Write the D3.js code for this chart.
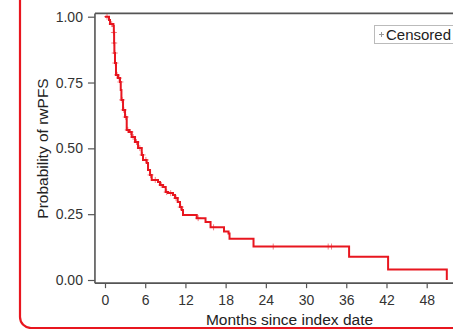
<!DOCTYPE html>
<html>
<head>
<meta charset="utf-8">
<script src="https://cdn.jsdelivr.net/npm/d3@7"></script>
<style>
  html, body { margin: 0; padding: 0; background: #fff; }
  svg { display: block; font-family: 'Liberation Sans', Arial, sans-serif; }
</style>
</head>
<body>
<svg id="chart" width="453" height="329"></svg>
<script>
// KM step function: time (months) at which survival drops to the value
const eventTimes = [0, 0.6, 0.75, 1.24, 1.32, 1.36, 1.40, 1.49, 1.64, 1.94, 2.24, 2.35, 2.45, 2.69, 2.99,
  3.24, 3.58, 3.99, 4.48, 4.93, 5.48, 5.67, 6.22, 6.42, 6.72, 6.97, 7.91, 8.21, 8.66, 9.06, 9.40,
  10.15, 10.45, 10.85, 11.19, 11.45, 11.64, 13.69, 15.0, 15.75, 17.76, 18.43, 18.58, 22.16,
  36.42, 42.24, 51.0];
const survival = [1.000, 0.987, 0.972, 0.965, 0.94, 0.90, 0.862, 0.824, 0.779, 0.767, 0.752, 0.722, 0.684,
  0.646, 0.619, 0.570, 0.562, 0.543, 0.524, 0.501, 0.475, 0.456, 0.444, 0.418, 0.399, 0.380, 0.372,
  0.361, 0.353, 0.334, 0.330, 0.323, 0.311, 0.296, 0.277, 0.266, 0.247, 0.235, 0.220, 0.200, 0.184,
  0.177, 0.157, 0.127, 0.088, 0.040, 0.000];
const censorTimes = [0.3, 1.0, 1.33, 1.38, 1.45, 1.55, 1.8, 2.1, 2.3, 2.55, 2.8, 3.1, 3.4, 3.8, 4.2,
  4.7, 5.2, 5.6, 6.1, 6.8, 7.5, 8.4, 9.2, 9.8, 10.6, 11.3, 13.9, 16.2, 25.1, 33.3, 33.8];
const xTicks = [0, 6, 12, 18, 24, 30, 36, 42, 48];
const yTicks = [0, 0.25, 0.5, 0.75, 1];

const svg = d3.select('#chart');
const red = '#e8161f';
const axisColor = '#555';
const font = "'Liberation Sans', Arial, sans-serif";

// outer rounded panel border (only left edge and corner visible)
svg.append('rect')
  .attr('x', 20).attr('y', -20).attr('width', 700).attr('height', 348)
  .attr('rx', 11).attr('fill', 'none').attr('stroke', red).attr('stroke-width', 2.2);

const x = d3.scaleLinear().domain([0, 48]).range([105, 426.7]);
const y = d3.scaleLinear().domain([0, 1]).range([280, 16.7]);
const xMin = -1.5, yMin = -0.012, yMax = 1.0125;

// plot frame: top border
svg.append('line')
  .attr('x1', x(xMin)).attr('x2', 460).attr('y1', y(yMax)).attr('y2', y(yMax))
  .attr('stroke', axisColor).attr('stroke-width', 1.6);

const yAxis = svg.append('g')
  .attr('transform', `translate(${x(xMin)},0)`)
  .call(d3.axisLeft(y).tickValues(yTicks).tickSize(7).tickPadding(5).tickFormat(d3.format('.2f')));
yAxis.select('.domain').remove();
svg.append('line')
  .attr('x1', x(xMin)).attr('x2', x(xMin)).attr('y1', y(yMax)).attr('y2', y(yMin))
  .attr('stroke', axisColor).attr('stroke-width', 1.6);

const xAxis = svg.append('g')
  .attr('transform', `translate(0,${y(yMin)})`)
  .call(d3.axisBottom(x).tickValues(xTicks).tickSize(5).tickPadding(7));
xAxis.select('.domain').remove();
svg.append('line')
  .attr('x1', x(xMin)).attr('x2', 460).attr('y1', y(yMin)).attr('y2', y(yMin))
  .attr('stroke', axisColor).attr('stroke-width', 1.6);

svg.selectAll('.tick line').attr('stroke', axisColor).attr('stroke-width', 1.2);
svg.selectAll('.tick text')
  .attr('fill', '#333').style('font-size', '14px').style('font-family', font);

// KM step line
const pts = eventTimes.map((t, i) => [t, survival[i]]);
const line = d3.line().x(d => x(d[0])).y(d => y(d[1])).curve(d3.curveStepAfter);
svg.append('path')
  .attr('d', line(pts))
  .attr('fill', 'none').attr('stroke', red).attr('stroke-width', 2)
  .attr('stroke-linejoin', 'miter');

// censor marks
const survAt = t => {
  let s = 1;
  eventTimes.forEach((et, i) => { if (et <= t) s = survival[i]; });
  return s;
};
svg.append('g').selectAll('path')
  .data(censorTimes)
  .join('path')
  .attr('d', t => {
    const cx = x(t), cy = y(survAt(t));
    return `M${cx - 3},${cy}H${cx + 3}M${cx},${cy - 3}V${cy + 3}`;
  })
  .attr('stroke', red).attr('stroke-opacity', 0.55).attr('stroke-width', 1);

// axis titles
svg.append('text')
  .attr('x', 289.5).attr('y', 325).attr('text-anchor', 'middle')
  .style('font-size', '15.5px').attr('fill', '#222')
  .text('Months since index date');
svg.append('text')
  .attr('transform', 'translate(47.5,148.5) rotate(-90)').attr('text-anchor', 'middle')
  .style('font-size', '15.5px').attr('fill', '#222')
  .text('Probability of rwPFS');

// legend
const lg = svg.append('g').attr('transform', 'translate(374,25)');
lg.append('rect').attr('x', 0.5).attr('y', 0.5).attr('width', 100).attr('height', 18)
  .attr('fill', '#fff').attr('stroke', '#bbb');
lg.append('path').attr('d', 'M5,9.5H10M7.5,7V12').attr('stroke', '#999').attr('stroke-width', 1);
lg.append('text').attr('x', 12).attr('y', 15).style('font-size', '15px').attr('fill', '#222')
  .text('Censored');
</script>
</body>
</html>
